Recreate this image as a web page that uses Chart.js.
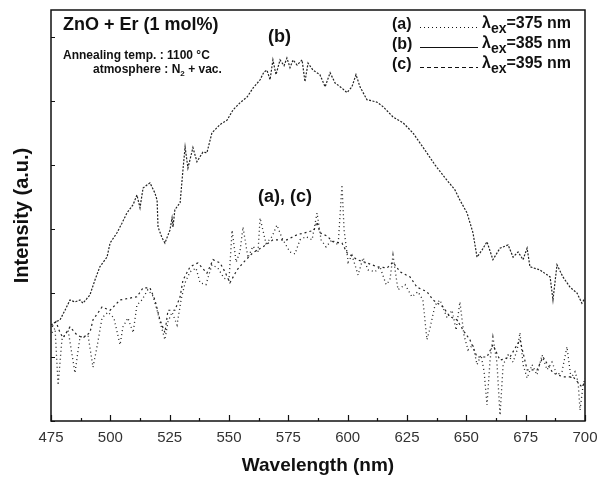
<!DOCTYPE html>
<html>
<head>
<meta charset="utf-8">
<script src="https://cdn.jsdelivr.net/npm/chart.js@4.4.1/dist/chart.umd.min.js"></script>
<style>
html,body{margin:0;padding:0;background:#fff;}
#wrap{width:599px;height:482px;}
</style>
</head>
<body>
<div id="wrap"><canvas id="c" width="599" height="482"></canvas></div>
<script>
// ---- data ----
const xTicks = [475, 500, 525, 550, 575, 600, 625, 650, 675, 700];
const yTicks = [0, 1, 2, 3, 4, 5, 6];

const bWave = [475.0,477.1,478.8,480.9,483.0,485.1,487.2,488.5,491.4,493.5,495.6,498.6,499.9,502.8,504.9,507.0,509.6,511.2,512.5,513.8,516.7,518.8,519.7,520.1,521.8,523.0,525.1,526.0,526.4,527.2,529.4,530.6,531.5,532.7,534.8,536.5,539.0,540.7,542.8,546.2,549.2,551.7,554.6,557.6,560.1,563.1,564.7,566.0,567.3,568.5,569.8,571.5,573.2,574.4,575.7,577.0,578.7,580.8,582.0,583.3,585.4,588.3,590.5,592.6,594.7,597.6,599.7,601.8,603.5,605.2,608.1,612.4,614.9,619.1,623.3,627.5,632.6,636.8,641.0,645.2,647.3,650.3,652.8,654.5,656.6,658.7,661.2,664.2,667.6,669.7,671.8,673.9,675.6,676.8,681.0,685.3,686.5,688.2,690.7,693.7,696.6,698.7,700.0];
const bInt  = [1.50,1.55,1.58,1.73,1.89,1.86,1.89,1.84,1.97,2.20,2.41,2.56,2.78,2.94,3.09,3.25,3.38,3.53,3.33,3.64,3.72,3.56,3.45,3.03,2.86,2.78,2.98,3.17,3.03,3.30,3.41,3.92,4.28,3.95,4.27,4.05,4.20,4.19,4.50,4.63,4.70,4.86,4.97,5.06,5.20,5.33,5.45,5.48,5.33,5.64,5.41,5.64,5.55,5.67,5.52,5.64,5.56,5.64,5.30,5.59,5.48,5.41,5.22,5.44,5.28,5.20,5.13,5.22,5.41,5.22,5.02,4.98,4.91,4.75,4.66,4.50,4.23,4.00,3.80,3.61,3.45,3.25,2.94,2.56,2.67,2.80,2.52,2.70,2.75,2.56,2.64,2.52,2.70,2.41,2.36,2.25,1.89,2.44,2.25,2.09,2.00,1.84,1.92];

const cWave = [475.4,477.1,478.8,480.1,483.0,486.0,488.5,491.4,492.7,496.5,499.9,504.1,508.3,511.2,513.8,516.7,518.8,520.9,523.0,524.3,527.2,529.4,530.6,533.6,536.9,540.7,543.3,546.2,548.3,550.4,553.4,555.9,560.1,564.3,568.5,574.4,578.7,582.9,585.8,587.1,588.3,591.3,593.8,597.6,599.7,604.0,608.1,612.4,616.6,619.1,622.1,626.3,629.2,633.4,636.0,640.2,643.1,646.1,648.6,651.5,654.5,658.7,661.2,664.2,668.4,672.6,675.6,679.8,682.3,686.5,690.7,695.0,698.7,700.0];
const cInt  = [1.47,1.55,1.38,1.30,1.47,1.34,1.30,1.38,1.58,1.78,1.73,1.89,1.92,1.94,2.08,2.08,1.89,1.58,1.38,1.73,1.73,1.94,2.20,2.41,2.47,2.31,2.52,2.47,2.33,2.16,2.36,2.47,2.63,2.72,2.83,2.83,2.91,2.95,2.98,3.11,2.94,2.89,2.80,2.78,2.63,2.52,2.47,2.41,2.39,2.48,2.33,2.25,2.09,2.02,1.89,1.78,1.63,1.58,1.42,1.27,1.00,1.00,1.19,0.95,1.00,1.27,0.80,0.80,1.00,0.75,0.69,0.69,0.53,0.61];

const aWave = [475.4,476.7,478.0,479.6,482.2,485.1,487.2,490.6,492.7,494.4,496.5,499.0,501.5,504.1,505.3,507.4,509.6,511.2,513.3,515.8,518.0,519.7,521.3,523.0,524.3,526.0,528.1,529.8,531.5,533.6,536.1,537.8,540.3,542.8,545.3,547.9,550.0,551.3,553.0,554.6,555.9,558.0,560.1,562.2,563.1,565.6,568.1,570.2,572.3,575.7,577.8,579.9,582.4,585.0,587.1,588.8,590.9,593.4,596.0,597.6,598.5,600.2,601.8,604.4,606.5,608.6,611.5,613.6,616.2,617.8,619.1,621.2,624.2,627.1,629.6,631.7,633.4,634.7,636.8,638.9,641.9,644.0,645.7,647.3,649.0,650.7,652.8,654.5,656.2,657.5,658.7,660.0,661.2,662.9,664.2,665.5,667.6,669.7,671.4,672.6,673.9,675.6,677.7,679.8,681.9,684.0,686.1,688.2,690.3,692.4,694.1,695.8,697.1,697.9,699.2,700.0];
const aInt  = [1.38,1.45,0.56,1.27,1.42,0.75,1.31,1.34,0.84,1.16,1.61,1.70,1.61,1.19,1.47,1.61,1.38,1.81,1.89,2.05,1.95,1.73,1.50,1.27,1.55,1.70,1.50,1.89,2.16,2.33,2.39,2.16,2.13,2.44,2.39,2.23,2.20,2.98,2.48,2.64,3.03,2.55,2.73,2.63,3.17,2.77,2.88,3.06,2.86,2.64,2.61,2.83,2.88,2.83,3.25,2.83,2.72,2.83,2.75,3.69,2.98,2.48,2.59,2.28,2.55,2.36,2.33,2.41,2.13,2.20,2.59,2.05,2.13,1.94,2.02,1.89,1.27,1.45,1.81,1.89,1.61,1.73,1.42,1.86,1.34,1.11,1.19,0.88,1.03,0.77,0.25,0.95,1.31,0.91,0.09,0.88,1.03,0.92,1.11,1.38,0.88,0.67,0.88,0.72,1.03,0.80,0.92,0.72,0.77,1.16,0.67,0.77,0.61,0.17,0.56,0.67];

const legendRows = [
  {tag: '(a)', dash: [1, 3], ex: '=375 nm'},
  {tag: '(b)', dash: [], ex: '=385 nm'},
  {tag: '(c)', dash: [4, 3], ex: '=395 nm'}
];

function pts(xs, ys) { return xs.map((x, i) => ({x: x, y: ys[i]})); }

const FONT = '"Liberation Sans", Arial, sans-serif';

const decor = {
  id: 'decor',
  afterDraw(chart) {
    const ctx = chart.ctx;
    const a = chart.chartArea;
    const xs = chart.scales.x, ys = chart.scales.y;
    ctx.save();
    // frame
    ctx.strokeStyle = '#111';
    ctx.lineWidth = 1.5;
    ctx.setLineDash([]);
    ctx.strokeRect(a.left, a.top, a.right - a.left, a.bottom - a.top);
    // inward ticks on x
    ctx.lineWidth = 1.2;
    ctx.beginPath();
    for (let v = 475; v <= 700; v += 12.5) {
      const px = Math.round(xs.getPixelForValue(v)) + 0.5;
      const major = Math.abs((v - 475) % 25) < 1e-6;
      ctx.moveTo(px, a.bottom);
      ctx.lineTo(px, a.bottom - (major ? 6 : 3));
    }
    // inward ticks on y
    yTicks.forEach(v => {
      const py = Math.round(ys.getPixelForValue(v)) + 0.5;
      ctx.moveTo(a.left, py);
      ctx.lineTo(a.left + 4, py);
    });
    ctx.stroke();
    // annotations
    ctx.fillStyle = '#111';
    ctx.textBaseline = 'alphabetic';
    ctx.textAlign = 'left';
    ctx.font = 'bold 18px ' + FONT;
    ctx.fillText('ZnO + Er (1 mol%)', a.left + 12, a.top + 20);
    ctx.fillText('(b)', 268, 42);
    ctx.fillText('(a), (c)', 258, 202);
    ctx.font = 'bold 12px ' + FONT;
    ctx.fillText('Annealing temp. : 1100 \u00B0C', a.left + 12, 59);
    ctx.fillText('atmosphere : N', 93, 73);
    let w = ctx.measureText('atmosphere : N').width;
    ctx.font = 'bold 8px ' + FONT;
    ctx.fillText('2', 93 + w, 76);
    let w2 = ctx.measureText('2').width;
    ctx.font = 'bold 12px ' + FONT;
    ctx.fillText(' + vac.', 93 + w + w2, 73);
    // legend
    legendRows.forEach((r, i) => {
      const y = 29 + i * 20;
      ctx.font = 'bold 16px ' + FONT;
      ctx.fillStyle = '#111';
      ctx.fillText(r.tag, 392, y);
      ctx.strokeStyle = '#111';
      ctx.lineWidth = 1;
      ctx.setLineDash(r.dash);
      ctx.beginPath();
      ctx.moveTo(420, y - 1.5);
      ctx.lineTo(478, y - 1.5);
      ctx.stroke();
      ctx.setLineDash([]);
      ctx.font = 'bold 16px ' + FONT;
      ctx.fillText('\u03BB', 482, y - 1);
      let lw = ctx.measureText('\u03BB').width;
      ctx.font = 'bold 14px ' + FONT;
      ctx.fillText('ex', 482 + lw, y + 4);
      let ew = ctx.measureText('ex').width;
      ctx.font = 'bold 16px ' + FONT;
      ctx.fillText(r.ex, 482 + lw + ew, y - 1);
    });
    ctx.restore();
  }
};

new Chart(document.getElementById('c'), {
  type: 'line',
  data: {
    datasets: [
      {label: '(a)', data: pts(aWave, aInt), borderColor: '#222', borderWidth: 1.3, borderDash: [1, 3], pointRadius: 0, tension: 0},
      {label: '(b)', data: pts(bWave, bInt), borderColor: '#222', borderWidth: 1.2, borderDash: [2, 1.5], pointRadius: 0, tension: 0},
      {label: '(c)', data: pts(cWave, cInt), borderColor: '#222', borderWidth: 1.2, borderDash: [2, 3], pointRadius: 0, tension: 0}
    ]
  },
  options: {
    responsive: false,
    animation: false,
    events: [],
    layout: {padding: {left: 0, right: 14, top: 10, bottom: 0}},
    plugins: {legend: {display: false}, tooltip: {enabled: false}},
    scales: {
      x: {
        type: 'linear', min: 475, max: 700,
        afterBuildTicks: s => { s.ticks = xTicks.map(v => ({value: v})); },
        afterFit: s => { s.height = 61; s.paddingRight = 0; s.paddingLeft = 0; },
        border: {display: false},
        grid: {display: false, drawTicks: false},
        ticks: {color: '#333', font: {family: FONT, size: 15}, padding: 8, maxRotation: 0, autoSkip: false},
        title: {display: true, text: 'Wavelength (nm)', color: '#111', font: {family: FONT, size: 19, weight: 'bold'}, padding: {top: 0, bottom: 5}}
      },
      y: {
        type: 'linear', min: 0, max: 6.42,
        afterBuildTicks: s => { s.ticks = yTicks.map(v => ({value: v})); },
        afterFit: s => { s.width = 51; },
        border: {display: false},
        grid: {display: false, drawTicks: false},
        ticks: {display: false},
        title: {display: true, text: 'Intensity (a.u.)', color: '#111', font: {family: FONT, size: 20, weight: 'bold'}, padding: {top: 10, bottom: 0}}
      }
    }
  },
  plugins: [decor]
});
</script>
</body>
</html>
